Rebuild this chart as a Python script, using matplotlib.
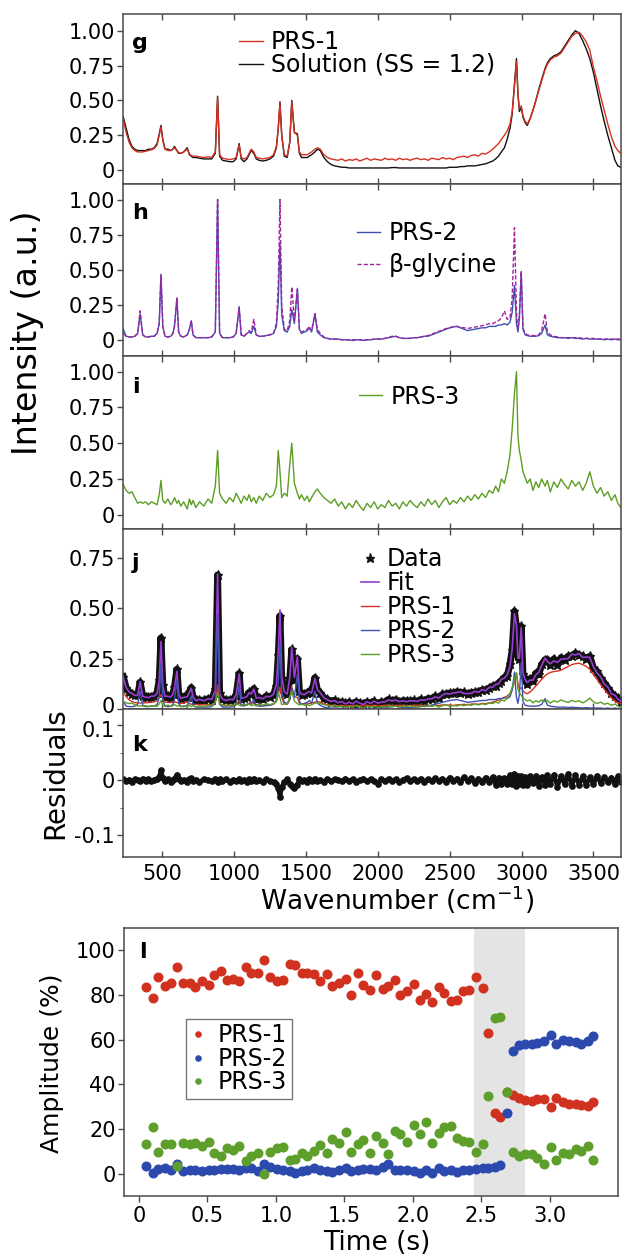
import numpy as np
import matplotlib
matplotlib.use('Agg')
import matplotlib.pyplot as plt
from matplotlib.transforms import ScaledTranslation

# ---------------- data: Raman spectra (shared wavenumber grid) ----------------
wavenumber = [
    230, 250, 270, 290, 310, 330, 347, 365, 385, 405, 425, 445, 465, 480, 492, 505, 520, 540, 560, 575,
    586, 603, 615, 630, 650, 675, 690, 703, 715, 735, 760, 790, 820, 845, 870, 886, 900, 920, 945, 970,
    995, 1015, 1036, 1050, 1070, 1090, 1105, 1120, 1138, 1155, 1175, 1200, 1225, 1250, 1275, 1295, 1308, 1320, 1332, 1350,
    1370, 1388, 1402, 1420, 1441, 1455, 1470, 1490, 1510, 1524, 1540, 1563, 1580, 1600, 1625, 1650, 1675, 1700,
    1725, 1750, 1775, 1800, 1825, 1850, 1875, 1900, 1925, 1950, 1975, 2000, 2025, 2050, 2075, 2100, 2125, 2150, 2175, 2200, 2225, 2250,
    2275, 2300, 2325, 2350, 2375, 2400, 2425, 2450, 2475, 2500, 2525, 2550, 2575, 2600, 2625, 2650, 2675, 2700, 2725, 2750, 2775, 2800,
    2820, 2840, 2860, 2881, 2900, 2920, 2935, 2951, 2965, 2975, 2985, 2998, 3010, 3025, 3040, 3060, 3080, 3100, 3120, 3140,
    3164, 3180, 3200, 3225, 3250, 3275, 3300, 3325, 3350, 3375, 3400, 3425, 3450, 3475, 3500, 3525, 3550, 3575, 3600, 3625, 3650, 3670, 3690]

solution = [
    0.38, 0.30, 0.22, 0.17, 0.15, 0.14, 0.14, 0.14, 0.14, 0.15, 0.15, 0.16, 0.19, 0.26, 0.32, 0.22, 0.15, 0.15, 0.14, 0.15,
    0.17, 0.14, 0.12, 0.12, 0.13, 0.16, 0.11, 0.10, 0.09, 0.09, 0.085, 0.08, 0.08, 0.08, 0.12, 0.53, 0.10, 0.07, 0.065, 0.06,
    0.06, 0.08, 0.19, 0.08, 0.06, 0.08, 0.11, 0.14, 0.12, 0.08, 0.07, 0.065, 0.07, 0.08, 0.10, 0.16, 0.30, 0.49, 0.25, 0.10,
    0.09, 0.20, 0.50, 0.27, 0.26, 0.12, 0.09, 0.09, 0.09, 0.10, 0.11, 0.13, 0.15, 0.14, 0.09, 0.06, 0.04, 0.03,
    0.025, 0.02, 0.02, 0.015, 0.015, 0.015, 0.015, 0.015, 0.015, 0.015, 0.015, 0.015, 0.015, 0.015, 0.015, 0.018, 0.018, 0.015, 0.015, 0.015, 0.015, 0.015,
    0.015, 0.015, 0.015, 0.015, 0.015, 0.015, 0.015, 0.015, 0.015, 0.02, 0.02, 0.02, 0.025, 0.025, 0.03, 0.03, 0.03, 0.035, 0.04, 0.045, 0.055, 0.065,
    0.08, 0.10, 0.13, 0.16, 0.22, 0.30, 0.40, 0.62, 0.80, 0.55, 0.42, 0.45, 0.38, 0.34, 0.32, 0.37, 0.43, 0.50, 0.58, 0.65,
    0.73, 0.77, 0.80, 0.82, 0.83, 0.85, 0.89, 0.93, 0.97, 1.00, 0.98, 0.93, 0.87, 0.80, 0.70, 0.58, 0.46, 0.35, 0.25, 0.16, 0.07, 0.03, 0.02]

prs1 = [
    0.36, 0.27, 0.20, 0.16, 0.14, 0.13, 0.13, 0.13, 0.135, 0.14, 0.145, 0.155, 0.18, 0.25, 0.31, 0.21, 0.15, 0.14, 0.14, 0.15,
    0.16, 0.14, 0.125, 0.12, 0.13, 0.15, 0.115, 0.105, 0.10, 0.10, 0.095, 0.09, 0.095, 0.09, 0.13, 0.52, 0.11, 0.085, 0.08, 0.075,
    0.08, 0.09, 0.18, 0.09, 0.08, 0.09, 0.12, 0.15, 0.13, 0.09, 0.085, 0.08, 0.085, 0.09, 0.11, 0.17, 0.30, 0.48, 0.25, 0.11,
    0.10, 0.20, 0.49, 0.27, 0.25, 0.13, 0.11, 0.11, 0.11, 0.12, 0.13, 0.15, 0.16, 0.15, 0.11, 0.09, 0.08, 0.075,
    0.07, 0.08, 0.065, 0.075, 0.07, 0.08, 0.065, 0.075, 0.085, 0.07, 0.08, 0.075, 0.07, 0.085, 0.075, 0.08, 0.07, 0.085, 0.075, 0.08, 0.07, 0.08,
    0.085, 0.075, 0.08, 0.07, 0.085, 0.08, 0.075, 0.09, 0.08, 0.085, 0.075, 0.09, 0.095, 0.10, 0.09, 0.105, 0.11, 0.10, 0.12, 0.115, 0.13, 0.15,
    0.17, 0.19, 0.22, 0.25, 0.28, 0.33, 0.42, 0.60, 0.78, 0.55, 0.44, 0.46, 0.39, 0.35, 0.33, 0.37, 0.43, 0.50, 0.57, 0.64,
    0.72, 0.76, 0.79, 0.81, 0.82, 0.84, 0.88, 0.92, 0.96, 0.98, 0.99, 0.96, 0.92, 0.86, 0.74, 0.64, 0.53, 0.43, 0.33, 0.24, 0.17, 0.14, 0.12]

prs2 = [
    0.08, 0.03, 0.025, 0.025, 0.03, 0.05, 0.19, 0.04, 0.025, 0.025, 0.03, 0.03, 0.05, 0.12, 0.47, 0.10, 0.03, 0.025, 0.03, 0.05,
    0.10, 0.30, 0.06, 0.03, 0.025, 0.04, 0.08, 0.14, 0.04, 0.02, 0.02, 0.02, 0.02, 0.025, 0.06, 1.00, 0.05, 0.02, 0.02, 0.02,
    0.025, 0.05, 0.24, 0.04, 0.03, 0.05, 0.06, 0.05, 0.10, 0.04, 0.03, 0.03, 0.035, 0.04, 0.05, 0.10, 0.28, 0.70, 0.18, 0.07,
    0.06, 0.10, 0.22, 0.12, 0.37, 0.08, 0.05, 0.06, 0.07, 0.09, 0.06, 0.19, 0.06, 0.04, 0.02, 0.015, 0.01, 0.01,
    0.01, 0.005, 0.005, 0.005, 0.0, 0.005, 0.005, 0.0, 0.005, 0.005, 0.01, 0.01, 0.01, 0.015, 0.02, 0.025, 0.03, 0.02, 0.015, 0.015, 0.015, 0.02,
    0.02, 0.025, 0.03, 0.03, 0.04, 0.05, 0.06, 0.07, 0.08, 0.09, 0.095, 0.10, 0.09, 0.08, 0.07, 0.075, 0.08, 0.085, 0.09, 0.09, 0.10, 0.10,
    0.10, 0.11, 0.11, 0.12, 0.11, 0.13, 0.20, 0.39, 0.12, 0.06, 0.15, 0.49, 0.08, 0.04, 0.035, 0.03, 0.03, 0.03, 0.035, 0.05,
    0.11, 0.04, 0.03, 0.025, 0.02, 0.02, 0.02, 0.015, 0.02, 0.015, 0.015, 0.01, 0.015, 0.01, 0.01, 0.01, 0.01, 0.005, 0.01, 0.005, 0.01, 0.005, 0.005]

beta_glycine = [
    0.05, 0.03, 0.025, 0.025, 0.03, 0.05, 0.21, 0.04, 0.025, 0.025, 0.03, 0.03, 0.05, 0.12, 0.46, 0.10, 0.03, 0.025, 0.03, 0.05,
    0.10, 0.30, 0.06, 0.03, 0.025, 0.04, 0.08, 0.14, 0.04, 0.02, 0.02, 0.02, 0.02, 0.025, 0.06, 1.00, 0.05, 0.02, 0.02, 0.02,
    0.025, 0.05, 0.23, 0.04, 0.03, 0.05, 0.07, 0.06, 0.15, 0.04, 0.03, 0.03, 0.035, 0.04, 0.05, 0.12, 0.40, 1.00, 0.25, 0.08,
    0.07, 0.14, 0.38, 0.14, 0.36, 0.08, 0.06, 0.07, 0.08, 0.10, 0.07, 0.19, 0.08, 0.05, 0.025, 0.015, 0.01, 0.01,
    0.01, 0.005, 0.005, 0.005, 0.005, 0.005, 0.005, 0.005, 0.005, 0.005, 0.01, 0.01, 0.01, 0.015, 0.02, 0.03, 0.03, 0.02, 0.015, 0.015, 0.015, 0.02,
    0.02, 0.025, 0.03, 0.035, 0.045, 0.055, 0.065, 0.075, 0.085, 0.09, 0.10, 0.10, 0.095, 0.09, 0.085, 0.09, 0.095, 0.10, 0.105, 0.11, 0.12, 0.12,
    0.13, 0.14, 0.16, 0.21, 0.15, 0.16, 0.30, 0.80, 0.20, 0.08, 0.18, 0.49, 0.09, 0.05, 0.04, 0.035, 0.035, 0.035, 0.04, 0.07,
    0.19, 0.06, 0.04, 0.03, 0.025, 0.02, 0.02, 0.02, 0.02, 0.02, 0.02, 0.015, 0.015, 0.015, 0.015, 0.01, 0.01, 0.01, 0.01, 0.01, 0.01, 0.01, 0.01]

prs3 = [
    0.21, 0.17, 0.15, 0.16, 0.12, 0.08, 0.09, 0.08, 0.09, 0.07, 0.09, 0.08, 0.07, 0.14, 0.24, 0.10, 0.08, 0.11, 0.07, 0.09,
    0.12, 0.08, 0.10, 0.06, 0.09, 0.04, 0.11, 0.07, 0.10, 0.05, 0.09, 0.06, 0.11, 0.08, 0.20, 0.45, 0.15, 0.11, 0.08, 0.12,
    0.09, 0.15, 0.11, 0.08, 0.13, 0.10, 0.14, 0.09, 0.12, 0.08, 0.13, 0.10, 0.15, 0.12, 0.14, 0.20, 0.45, 0.30, 0.12, 0.15,
    0.13, 0.35, 0.50, 0.22, 0.15, 0.11, 0.14, 0.10, 0.13, 0.09, 0.12, 0.16, 0.18, 0.15, 0.12, 0.10, 0.08, 0.11,
    0.06, 0.09, 0.04, 0.08, 0.05, 0.10, 0.06, 0.03, 0.08, 0.05, 0.09, 0.04, 0.07, 0.05, 0.10, 0.06, 0.08, 0.04, 0.09, 0.06, 0.10, 0.07,
    0.05, 0.09, 0.06, 0.11, 0.07, 0.10, 0.05, 0.09, 0.12, 0.07, 0.10, 0.08, 0.12, 0.09, 0.13, 0.10, 0.14, 0.11, 0.15, 0.12, 0.17, 0.15,
    0.20, 0.16, 0.25, 0.22, 0.30, 0.42, 0.60, 0.85, 1.00, 0.55, 0.45, 0.38, 0.30, 0.26, 0.22, 0.25, 0.17, 0.23, 0.19, 0.25,
    0.20, 0.24, 0.16, 0.23, 0.19, 0.25, 0.21, 0.18, 0.24, 0.20, 0.23, 0.17, 0.22, 0.30, 0.20, 0.15, 0.19, 0.13, 0.16, 0.10, 0.14, 0.08, 0.05]

residuals = [
    0.002, -0.002, 0.001, -0.003, 0.002, 0.0, -0.002, 0.003, -0.001, 0.002, -0.002, 0.001, 0.003, 0.006, 0.018, 0.004, -0.002, 0.002, -0.003, 0.001,
    0.003, 0.010, 0.002, -0.002, 0.001, -0.003, 0.002, 0.004, -0.002, 0.001, -0.003, 0.002, 0.0, -0.002, 0.003, -0.004, 0.002, -0.001, 0.002, -0.003,
    0.001, -0.002, 0.003, -0.002, 0.001, -0.003, 0.002, -0.001, 0.003, -0.002, 0.0, -0.003, 0.002, -0.001, -0.004, -0.006, -0.015, -0.030, -0.012, -0.004,
    0.002, -0.006, -0.010, -0.015, -0.008, 0.003, -0.002, 0.001, -0.003, 0.002, -0.001, 0.003, -0.002, 0.001, -0.003, 0.002, -0.001, 0.002,
    0.001, -0.002, 0.003, -0.001, 0.002, -0.003, 0.001, 0.003, -0.002, 0.002, -0.001, -0.006, 0.002, -0.002, 0.003, -0.001, 0.002, -0.003, 0.001, 0.004, -0.002, 0.002,
    -0.001, 0.003, -0.003, 0.002, -0.002, 0.004, -0.001, 0.003, -0.003, 0.005, -0.002, 0.003, -0.004, 0.006, -0.002, 0.004, -0.005, 0.003, -0.003, 0.005, -0.004, 0.006,
    -0.008, 0.005, -0.006, 0.004, -0.007, 0.010, -0.006, 0.012, -0.010, 0.008, -0.006, 0.007, -0.008, 0.006, -0.009, 0.007, -0.005, 0.008, -0.010, 0.006,
    -0.008, 0.009, -0.006, 0.010, -0.012, 0.008, -0.007, 0.012, -0.010, 0.009, -0.008, 0.007, -0.009, 0.006, -0.007, 0.008, -0.005, 0.006, -0.004, 0.005, -0.006, 0.007, -0.003]

# amplitudes of the three reference spectra in the fit of panel j
fit_amplitudes = [0.23, 0.47, 0.18]

# ---------------- data: amplitudes vs time (panel l) ----------------
time_s = [0.05, 0.10, 0.14, 0.19, 0.23, 0.28, 0.32, 0.37, 0.41, 0.46,
          0.51, 0.55, 0.60, 0.64, 0.69, 0.73, 0.78, 0.82, 0.87, 0.91,
          0.96, 1.01, 1.05, 1.10, 1.14, 1.19, 1.23, 1.28, 1.32, 1.37,
          1.41, 1.46, 1.51, 1.55, 1.60, 1.64, 1.69, 1.73, 1.78, 1.82,
          1.87, 1.91, 1.96, 2.01, 2.05, 2.10, 2.14, 2.19, 2.23, 2.28,
          2.32, 2.37, 2.41, 2.46, 2.51, 2.55, 2.60, 2.64, 2.69, 2.73,
          2.78, 2.82, 2.87, 2.91, 2.96, 3.01, 3.05, 3.10, 3.14, 3.19,
          3.23, 3.28, 3.32]
amp_prs1 = [83.6, 78.8, 88.1, 84.0, 85.2, 92.5, 85.5, 85.5, 83.6, 86.3,
            84.3, 88.8, 90.6, 86.6, 87.3, 86.1, 92.5, 89.9, 89.9, 95.8,
            88.1, 86.1, 86.9, 94.0, 93.6, 89.9, 90.0, 89.6, 86.3, 89.6,
            83.9, 85.4, 87.3, 80.1, 89.9, 84.3, 82.2, 88.8, 82.7, 84.0,
            86.9, 79.9, 81.9, 85.1, 77.6, 80.3, 76.9, 83.6, 80.9, 77.5,
            77.9, 81.8, 82.4, 88.1, 83.3, 63.0, 27.0, 25.5, 36.5, 35.3,
            34.1, 32.9, 32.6, 33.3, 33.3, 30.0, 34.1, 32.1, 31.4, 31.1,
            30.7, 30.4, 32.3]
amp_prs2 = [3.3, 0.3, 2.0, 2.7, 1.8, 4.5, 1.0, 1.5, 1.8, 1.0,
            1.5, 1.8, 2.0, 2.0, 2.2, 1.8, 2.5, 2.5, 1.0, 4.3,
            3.0, 2.0, 1.5, 1.0, 0.5, 1.0, 1.5, 2.5, 1.5, 1.0,
            0.8, 1.5, 2.5, 1.0, 1.5, 2.0, 2.0, 1.5, 3.0, 4.5,
            1.5, 1.5, 1.5, 1.0, 0.5, 1.5, 0.3, 2.5, 1.0, 1.5,
            0.8, 1.5, 1.8, 2.0, 2.5, 2.5, 3.0, 4.0, 27.0, 55.0,
            57.5, 58.0, 58.0, 58.5, 59.3, 62.0, 58.0, 60.0, 59.5, 59.0,
            58.0, 59.5, 61.5]
amp_prs3 = [13.3, 21.0, 9.6, 13.3, 13.3, 3.3, 13.6, 13.3, 13.8, 12.6,
            14.4, 9.2, 7.7, 11.6, 10.7, 12.3, 5.6, 7.7, 9.2, 0.0,
            9.6, 11.6, 11.9, 6.2, 6.7, 9.3, 8.1, 10.0, 13.0, 9.3,
            15.6, 13.6, 18.5, 9.6, 13.3, 15.1, 9.2, 16.7, 13.6, 8.6,
            19.3, 17.8, 14.1, 21.9, 17.8, 23.0, 13.6, 18.1, 21.0, 21.5,
            15.9, 14.8, 14.0, 9.6, 13.3, 35.0, 69.5, 70.3, 36.5, 9.6,
            8.0, 8.6, 8.6, 7.2, 4.5, 11.8, 6.0, 9.3, 9.0, 11.0,
            10.0, 12.3, 6.0]
transition_window = [2.45, 2.82]

# ---------------- style ----------------
plt.rcParams['font.family'] = ['DejaVu Sans']
plt.rcParams['axes.unicode_minus'] = False
RED = '#d53121'
BLACK = '#111111'
BLUE = '#3d52b0'
PURPLE = '#a0249e'
GREEN = '#5c9e24'
FITC = '#9a3dd4'
SPINE = '#4a4a4a'
TICK_FS = 15
LEG_FS = 17

FW, FH = 625, 1256
fig = plt.figure(figsize=(FW / 100, FH / 100), dpi=100)


def px_axes(l, t, r, b):
    return fig.add_axes([l / FW, 1 - b / FH, (r - l) / FW, (b - t) / FH])


ax_g = px_axes(123, 14, 621, 184)
ax_h = px_axes(123, 184, 621, 356)
ax_i = px_axes(123, 356, 621, 529)
ax_j = px_axes(123, 529, 621, 709)
ax_k = px_axes(123, 709, 621, 857)
ax_l = px_axes(124, 928, 618, 1196)

W = np.array(wavenumber)

# g
ax_g.plot(W, prs1, color=RED, lw=1.0, label='PRS-1', zorder=3)
ax_g.plot(W, solution, color=BLACK, lw=1.0, label='Solution (SS = 1.2)', zorder=2)
ax_g.set_ylim(-0.10, 1.12)
# h
ax_h.plot(W, prs2, color=BLUE, lw=1.0, label='PRS-2', zorder=2)
ax_h.plot(W, beta_glycine, color=PURPLE, lw=1.0, ls=(0, (3, 1.5)), label='\u03b2-glycine', zorder=3)
ax_h.set_ylim(-0.11, 1.11)
# i
ax_i.plot(W, prs3, color=GREEN, lw=1.0, label='PRS-3')
ax_i.set_ylim(-0.10, 1.11)
# j
c1 = fit_amplitudes[0] * np.array(prs1)
c2 = fit_amplitudes[1] * np.array(prs2)
c3 = fit_amplitudes[2] * np.array(prs3)
fit = c1 + c2 + c3
data = fit + np.array(residuals)
ax_j.plot(W, data, color=BLACK, lw=5, zorder=1)
ax_j.plot(W, data, ls='none', marker='*', ms=6.5, color=BLACK, label='Data', zorder=2)
ax_j.plot(W, fit, color=FITC, lw=1.2, label='Fit', zorder=3)
ax_j.plot(W, c1, color=RED, lw=1.0, label='PRS-1', zorder=4)
ax_j.plot(W, c2, color=BLUE, lw=1.0, label='PRS-2', zorder=4)
ax_j.plot(W, c3, color=GREEN, lw=1.0, label='PRS-3', zorder=4)
ax_j.set_ylim(0, 0.895)
# k
ax_k.plot(W, residuals, color=BLACK, lw=3.2)
ax_k.plot(W, residuals, ls='none', marker='o', ms=3.8, color=BLACK)
ax_k.set_ylim(-0.14, 0.13)

for ax in (ax_g, ax_h, ax_i, ax_j, ax_k):
    ax.set_xlim(228, 3692)
    ax.set_xticks([500, 1000, 1500, 2000, 2500, 3000, 3500])
    ax.tick_params(axis='x', direction='in', top=True, bottom=True, length=4, width=1,
                   color=SPINE, labelbottom=False, labelsize=TICK_FS)
    ax.tick_params(axis='y', direction='out', length=4, width=1, color=SPINE,
                   labelsize=TICK_FS, pad=2)
    for s in ax.spines.values():
        s.set_color(SPINE)
        s.set_linewidth(1.1)

for ax in (ax_g, ax_h, ax_i):
    ax.set_yticks([0, 0.25, 0.5, 0.75, 1.0])
    ax.set_yticklabels(['0', '0.25', '0.50', '0.75', '1.00'])
ax_j.set_yticks([0, 0.25, 0.5, 0.75])
ax_j.set_yticklabels(['0', '0.25', '0.50', '0.75'])
ax_k.set_yticks([-0.1, 0, 0.1])
ax_k.set_yticklabels(['-0.1', '0', '0.1'])
ax_k.set_yticks([-0.05, 0.05], minor=True)
ax_k.tick_params(axis='y', which='minor', direction='out', length=2.5, color=SPINE)
ax_k.tick_params(axis='x', labelbottom=True, pad=5)

# nudge the two tick labels that meet at the j/k boundary apart
lab_j0 = ax_j.yaxis.get_major_ticks()[0].label1
lab_j0.set_transform(lab_j0.get_transform() + ScaledTranslation(0, 0.04, fig.dpi_scale_trans))
lab_k1 = ax_k.yaxis.get_major_ticks()[2].label1
lab_k1.set_transform(lab_k1.get_transform() + ScaledTranslation(0, -0.035, fig.dpi_scale_trans))

# panel letters
for ax, letter, yf in ((ax_g, 'g', 0.83), (ax_h, 'h', 0.833), (ax_i, 'i', 0.82),
                       (ax_j, 'j', 0.81), (ax_k, 'k', 0.757)):
    ax.text(0.018, yf, letter, transform=ax.transAxes, fontsize=16, fontweight='bold',
            ha='left', va='center')

# legends
leg_kw = dict(loc='upper left', frameon=False, fontsize=LEG_FS, borderpad=0, borderaxespad=0,
              handletextpad=0.35)
ax_g.legend(bbox_to_anchor=(0.233, 0.905), handlelength=1.0, labelspacing=-0.05, **leg_kw)
ax_h.legend(bbox_to_anchor=(0.469, 0.785), handlelength=1.0, labelspacing=0.33, **leg_kw)
ax_i.legend(bbox_to_anchor=(0.473, 0.835), handlelength=1.0, **leg_kw)
ax_j.legend(bbox_to_anchor=(0.4775, 0.90), handlelength=0.75, labelspacing=0.0, **leg_kw)

# l
ax_l.axvspan(transition_window[0], transition_window[1], color='#e4e4e4', zorder=0, lw=0)
ax_l.plot(time_s, amp_prs1, ls='none', marker='o', ms=6.2, color='#d0321f', label='PRS-1', zorder=3)
ax_l.plot(time_s, amp_prs2, ls='none', marker='o', ms=6.2, color='#2c4aad', label='PRS-2', zorder=3)
ax_l.plot(time_s, amp_prs3, ls='none', marker='o', ms=6.2, color='#5e9f2b', label='PRS-3', zorder=4)
ax_l.set_xlim(-0.11, 3.5)
ax_l.set_ylim(-10, 110)
ax_l.set_xticks([0, 0.5, 1.0, 1.5, 2.0, 2.5, 3.0])
ax_l.set_xticklabels(['0', '0.5', '1.0', '1.5', '2.0', '2.5', '3.0'])
ax_l.set_yticks([0, 20, 40, 60, 80, 100])
ax_l.tick_params(axis='both', direction='out', length=4, width=1, color=SPINE, labelsize=TICK_FS)
ax_l.tick_params(axis='y', pad=2)
for s in ax_l.spines.values():
    s.set_color(SPINE)
    s.set_linewidth(1.1)
ax_l.text(0.03, 0.91, 'l', transform=ax_l.transAxes, fontsize=16, fontweight='bold',
          ha='left', va='center')
lg = ax_l.legend(loc='upper left', bbox_to_anchor=(0.126, 0.662), fontsize=LEG_FS, frameon=True,
                 fancybox=False, edgecolor='#555555', borderpad=0.2, borderaxespad=0,
                 handlelength=0.6, handletextpad=0.55, labelspacing=-0.02, markerscale=0.6)
lg.get_frame().set_linewidth(1.0)

# axis titles
fig.text(28 / FW, 1 - 333 / FH, 'Intensity (a.u.)', rotation=90, fontsize=24, ha='center', va='center')
fig.text(55 / FW, 1 - 773 / FH, 'Residuals', rotation=90, fontsize=20, ha='center', va='center')
fig.text(52 / FW, 1 - 1063 / FH, 'Amplitude (%)', rotation=90, fontsize=18, ha='center', va='center')
fig.text(397 / FW, 1 - 900 / FH, 'Wavenumber (cm$^{-1}$)', fontsize=19, ha='center', va='center')
fig.text(377 / FW, 1 - 1243 / FH, 'Time (s)', fontsize=19, ha='center', va='center')

fig.savefig('out.png', dpi=100)
